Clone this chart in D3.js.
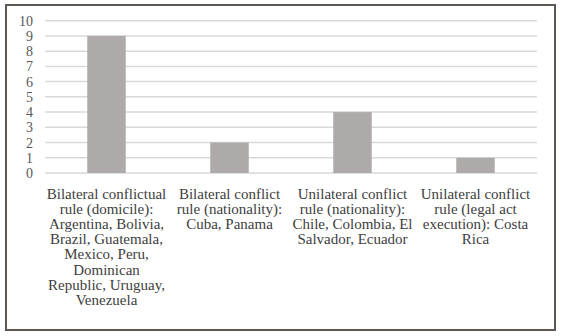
<!DOCTYPE html>
<html>
<head>
<meta charset="utf-8">
<script src="https://cdn.jsdelivr.net/npm/d3@7"></script>
<style>
  body { margin: 0; background: #fff; }
  svg { display: block; }
</style>
</head>
<body>
<div id="chart"></div>
<script>
// data
var categories = [
    "Bilateral conflictual rule (domicile): Argentina, Bolivia, Brazil, Guatemala, Mexico, Peru, Dominican Republic, Uruguay, Venezuela",
    "Bilateral conflict rule (nationality): Cuba, Panama",
    "Unilateral conflict rule (nationality): Chile, Colombia, El Salvador, Ecuador",
    "Unilateral conflict rule (legal act execution): Costa Rica"
];
var categoryLines = [
    ["Bilateral conflictual", "rule (domicile):", "Argentina, Bolivia,", "Brazil, Guatemala,", "Mexico, Peru,", "Dominican", "Republic, Uruguay,", "Venezuela"],
    ["Bilateral conflict", "rule (nationality):", "Cuba, Panama"],
    ["Unilateral conflict", "rule (nationality):", "Chile, Colombia, El", "Salvador, Ecuador"],
    ["Unilateral conflict", "rule (legal act", "execution): Costa", "Rica"]
];
var values = [9, 2, 4, 1];
var yTicks = [0, 1, 2, 3, 4, 5, 6, 7, 8, 9, 10];

var width = 561, height = 336;
var marginLeft = 45, marginRight = 24, marginTop = 20.7, plotBottom = 173;
var serif = "Liberation Serif, Times New Roman, DejaVu Serif, serif";

var svg = d3.select("#chart").append("svg")
    .attr("width", width)
    .attr("height", height);

// frame
svg.append("rect")
    .attr("x", 6).attr("y", 5)
    .attr("width", 549).attr("height", 325)
    .attr("fill", "none")
    .attr("stroke", "#5e5855")
    .attr("stroke-width", 2);

var xScale = d3.scaleBand().domain(d3.range(categories.length))
    .range([marginLeft, width - marginRight])
    .paddingInner(0.687).paddingOuter(0.3435);
var yScale = d3.scaleLinear().domain([0, 10]).range([plotBottom, marginTop]);

// gridlines
svg.append("g").selectAll("line").data(yTicks).enter()
    .append("line")
    .attr("x1", marginLeft)
    .attr("x2", width - marginRight)
    .attr("y1", function(d) { return yScale(d); })
    .attr("y2", function(d) { return yScale(d); })
    .attr("stroke", "#d9d9d9")
    .attr("stroke-width", 1.5);

// y axis labels
var yAxis = d3.axisLeft(yScale).tickValues(yTicks).tickSize(0).tickPadding(0);
var gy = svg.append("g").attr("transform", "translate(33,0)").call(yAxis)
    .attr("font-family", serif)
    .attr("font-size", 14);
gy.select(".domain").remove();
gy.selectAll("text").attr("fill", "#595959");

// bars
svg.append("g").selectAll("rect").data(values).enter()
    .append("rect")
    .attr("x", function(d, i) { return xScale(i); })
    .attr("y", function(d) { return yScale(d); })
    .attr("width", xScale.bandwidth())
    .attr("height", function(d) { return yScale(0) - yScale(d); })
    .attr("fill", "#aeaaaa");

// category labels
var lab = svg.append("g").selectAll("text").data(categoryLines).enter()
    .append("text")
    .attr("text-anchor", "middle")
    .attr("font-family", serif)
    .attr("font-size", 15)
    .attr("fill", "#404040")
    .attr("transform", function(d, i) { return "translate(" + (xScale(i) + xScale.bandwidth() / 2) + ",199)"; });
lab.selectAll("tspan").data(function(d) { return d; }).enter()
    .append("tspan")
    .attr("x", 0)
    .attr("dy", function(d, i) { return i === 0 ? 0 : 15.1; })
    .text(function(d) { return d; });
</script>
</body>
</html>
